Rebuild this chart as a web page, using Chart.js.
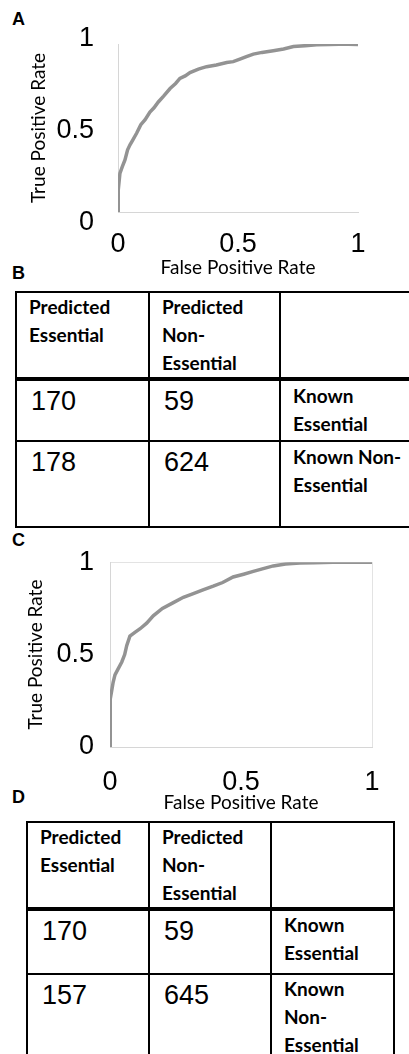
<!DOCTYPE html>
<html>
<head>
<meta charset="utf-8">
<script src="https://cdn.jsdelivr.net/npm/chart.js@4"></script>
<style>
  html, body { margin: 0; padding: 0; background: #fff; }
  body { width: 409px; height: 1054px; position: relative; overflow: hidden; font-family: Lato, sans-serif; }
  .panel { position: absolute; font: bold 18px "Liberation Sans", Arial, sans-serif; color: #000; }
  canvas { position: absolute; left: 0; }
  table { position: absolute; border-collapse: collapse; table-layout: fixed; }
  td { border: 2px solid #000; vertical-align: top; padding: 0 0 0 12px; color: #000; overflow: hidden; }
  tr.head td { border-bottom: 4px solid #000; font: bold 19px Lato, sans-serif; line-height: 28px; padding-top: 0; }
  td.num { font: 27px "Liberation Sans", Arial, sans-serif; line-height: 32px; padding-top: 4px; padding-left: 14px; }
  td.lab { font: bold 19px Lato, sans-serif; line-height: 28px; padding-top: 1px; }
  #tableD td.lab { padding-top: 0; }
</style>
</head>
<body>
<div class="panel" style="left:12px; top:9px;">A</div>
<div class="panel" style="left:12px; top:263px;">B</div>
<div class="panel" style="left:12px; top:530px;">C</div>
<div class="panel" style="left:12px; top:787px;">D</div>

<canvas id="rocA" style="top:0px;" width="409" height="285"></canvas>
<canvas id="rocC" style="top:530px;" width="409" height="290"></canvas>

<table id="tableB" style="left:15px; top:291px; width:394px;">
  <colgroup><col style="width:133px"><col style="width:131px"><col style="width:130px"></colgroup>
</table>
<table id="tableD" style="left:26px; top:821px; width:367px;">
  <colgroup><col style="width:122px"><col style="width:122px"><col style="width:123px"></colgroup>
</table>

<script>
// ROC curve A
const rocAFpr = [0, 0.001, 0.008, 0.018, 0.029, 0.04, 0.05, 0.062, 0.078, 0.095, 0.113, 0.133, 0.15, 0.168, 0.19, 0.217, 0.24, 0.258, 0.28, 0.30, 0.335, 0.369, 0.41, 0.453, 0.48, 0.508, 0.535, 0.564, 0.6, 0.647, 0.69, 0.731, 0.78, 0.828, 0.88, 0.92, 0.96, 1];
const rocATpr = [0, 0.13, 0.23, 0.27, 0.31, 0.37, 0.40, 0.43, 0.47, 0.52, 0.55, 0.595, 0.62, 0.655, 0.69, 0.735, 0.765, 0.795, 0.81, 0.83, 0.85, 0.865, 0.875, 0.89, 0.895, 0.91, 0.925, 0.94, 0.95, 0.96, 0.97, 0.985, 0.99, 0.995, 0.997, 0.998, 0.999, 0.997];

// ROC curve C
const rocCFpr = [0, 0, 0.002, 0.006, 0.012, 0.019, 0.03, 0.045, 0.056, 0.064, 0.076, 0.095, 0.115, 0.14, 0.165, 0.2, 0.24, 0.28, 0.318, 0.355, 0.394, 0.43, 0.47, 0.51, 0.547, 0.585, 0.623, 0.67, 0.725, 0.78, 0.85, 0.92, 1];
const rocCTpr = [0.01, 0.21, 0.26, 0.30, 0.35, 0.39, 0.42, 0.46, 0.50, 0.55, 0.60, 0.62, 0.64, 0.67, 0.71, 0.75, 0.78, 0.81, 0.83, 0.85, 0.87, 0.89, 0.92, 0.935, 0.95, 0.965, 0.98, 0.99, 0.995, 0.997, 1, 1, 1];

const rateTicks = [0, 0.5, 1];

// confusion tables
const predictedHeaders = ["Predicted\nEssential", "Predicted\nNon-\nEssential", ""];
const knownLabelsB = ["Known\nEssential", "Known Non-\nEssential"];
const knownLabelsD = ["Known\nEssential", "Known\nNon-\nEssential"];
const countsB = [[170, 59], [178, 624]];
const countsD = [[170, 59], [157, 645]];

function fillTable(id, headers, labels, counts, rowHeights) {
    const table = document.getElementById(id);
    const head = document.createElement("tr");
    head.className = "head";
    head.style.height = rowHeights[0] + "px";
    headers.forEach((h) => {
        const td = document.createElement("td");
        td.innerHTML = h.split("\n").join("<br>");
        head.appendChild(td);
    });
    table.appendChild(head);
    counts.forEach((row, i) => {
        const tr = document.createElement("tr");
        tr.style.height = rowHeights[i + 1] + "px";
        row.forEach((n) => {
            const td = document.createElement("td");
            td.className = "num";
            td.textContent = n;
            tr.appendChild(td);
        });
        const lab = document.createElement("td");
        lab.className = "lab";
        lab.innerHTML = labels[i].split("\n").join("<br>");
        tr.appendChild(lab);
        table.appendChild(tr);
    });
}

fillTable("tableB", predictedHeaders, knownLabelsB, countsB, [86, 62, 86]);
fillTable("tableD", predictedHeaders, knownLabelsD, countsD, [86, 65, 95]);

const tickFont = { family: "Liberation Sans", size: 27 };
const titleFont = { family: "Lato", size: 19 };

function createRocChart(canvasId, fpr, tpr, opts) {
    const ctx = document.getElementById(canvasId);
    const edgeColor = (c) => (c.tick && c.tick.value === 0.5 ? "rgba(0,0,0,0)" : opts.boxColor);
    const fixedTicks = (scale) => { scale.ticks = rateTicks.map((v) => ({ value: v })); };
    const scales = {
        x: {
            type: "linear",
            min: 0,
            max: 1,
            afterBuildTicks: fixedTicks,
            afterFit: (scale) => { scale.height = opts.xHeight; },
            grid: { display: opts.box, color: edgeColor, drawTicks: false },
            border: { display: true, color: "#d6d6d6", width: 1 },
            ticks: { font: tickFont, color: "#000", padding: opts.xPad, maxRotation: 0, autoSkip: false, callback: (v) => String(v) },
            title: { display: true, text: "False Positive Rate", font: titleFont, color: "#000", padding: { top: 0, bottom: 6 } },
        },
        y: {
            min: 0,
            max: 1,
            weight: 0,
            afterBuildTicks: fixedTicks,
            afterFit: (scale) => { scale.width = opts.labelRange ? 0 : opts.yWidth; },
            grid: { display: opts.box, color: edgeColor, drawTicks: false },
            border: { display: true, color: "#d6d6d6", width: 1 },
            ticks: { display: !opts.labelRange, font: tickFont, color: "#000", padding: 16, autoSkip: false, callback: (v) => String(v) },
            title: { display: !opts.labelRange, text: "True Positive Rate", font: titleFont, color: "#000", padding: { top: opts.titleLeft, bottom: 0 } },
        },
    };
    if (opts.labelRange) {
        // the tick labels of panel A sit a little wider apart than the axis itself
        scales.yLabels = {
            position: "left",
            weight: 1,
            min: opts.labelRange[0],
            max: opts.labelRange[1],
            afterBuildTicks: fixedTicks,
            afterFit: (scale) => { scale.width = opts.yWidth; },
            grid: { display: false },
            border: { display: false },
            ticks: { font: tickFont, color: "#000", padding: 16, autoSkip: false, callback: (v) => String(v) },
            title: { display: true, text: "True Positive Rate", font: titleFont, color: "#000", padding: { top: opts.titleLeft, bottom: 0 } },
        };
    }
    new Chart(ctx, {
        type: "line",
        data: {
            datasets: [
                {
                    data: fpr.map((x, i) => ({ x: x, y: tpr[i] })),
                    borderColor: "#939393",
                    borderWidth: 3.5,
                    pointRadius: 0,
                    tension: 0,
                    fill: false,
                },
            ],
        },
        options: {
            responsive: false,
            animation: false,
            layout: { padding: { top: opts.top, right: opts.right, left: 0, bottom: 0 } },
            plugins: { legend: { display: false }, tooltip: { enabled: false } },
            scales: scales,
        },
    });
}

createRocChart("rocA", rocAFpr, rocATpr, { top: 44, right: 51, xHeight: 73, yWidth: 118, titleLeft: 27, xPad: 16, box: false, boxColor: "#e3e3e3", labelRange: [0.06, 0.973] });
createRocChart("rocC", rocCFpr, rocCTpr, { top: 31, right: 37, xHeight: 73, yWidth: 110, titleLeft: 24, xPad: 19, box: true, boxColor: "#e3e3e3", labelRange: null });
</script>
</body>
</html>
